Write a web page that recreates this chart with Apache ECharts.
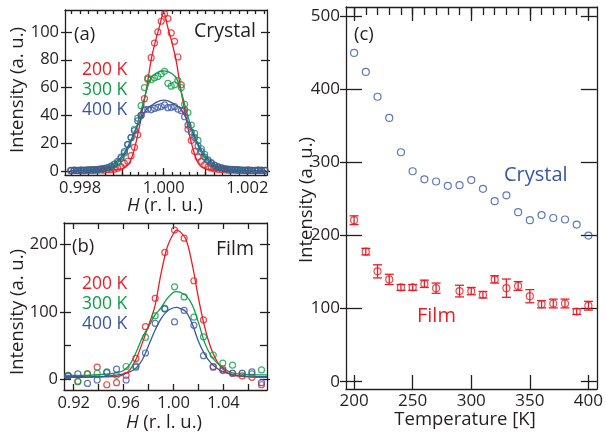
<!DOCTYPE html>
<html><head><meta charset="utf-8">
<script src="https://cdn.jsdelivr.net/npm/echarts@6/dist/echarts.min.js"></script>
<style>html,body{margin:0;padding:0;background:#fff}#c{width:606px;height:435px}</style>
</head><body><div id="c"></div>
<script>
// ---------- Panel (a): Crystal, H scans ----------
const aH = [0.99778,0.99786,0.99794,0.99802,0.99810,0.99818,0.99826,0.99834,0.99842,0.99850,0.99858,0.99866,0.99874,0.99882,0.99890,0.99898,0.99906,0.99914,0.99922,0.99930,0.99938,0.99946,0.99954,0.99962,0.99970,0.99978,0.99986,0.99994,1.00002,1.00010,1.00018,1.00026,1.00034,1.00042,1.00050,1.00058,1.00066,1.00074,1.00082,1.00090,1.00098,1.00106,1.00114,1.00122,1.00130,1.00138,1.00146,1.00154,1.00162,1.00170,1.00178,1.00186,1.00194,1.00202,1.00210,1.00218,1.00226,1.00234,1.00242];
const a200 = [0.2,0.4,0.3,0.5,0.2,0.4,0.6,0.3,0.5,0.7,0.6,0.9,1.0,1.3,2.0,3.0,5.5,7,11,17,26,40,52,66,81.5,92,100,107.7,113,109.6,99.3,93.3,82,62,44,30,22,14,10,7,4.5,3,2,1.5,1.2,1.0,0.8,0.6,0.5,0.7,0.4,0.5,0.3,0.6,0.4,0.3,0.5,0.4,0.3];
const a300 = [0.3,0.5,0.4,0.6,0.5,0.7,0.6,0.9,1.0,1.3,1.6,2.2,3.0,4.5,6,9,13,19,24,30,38,47,60,66.9,65.7,66.9,68,69.8,71.7,63,61,62,65,60,48,42,33,27,22,16,12,8,6,4,3,2.2,1.6,1.2,1.0,0.8,0.9,0.6,0.5,0.7,0.4,0.5,0.6,0.4,0.5];
const a400 = [0.5,0.6,0.4,0.7,0.6,0.8,0.9,1.0,1.2,1.5,1.9,2.5,3.5,5,7,10,14,19,24,29,36,40,44,44.4,44,45,45.8,46.3,47.5,45.5,45.8,46.3,44.4,43.4,39,33,28,24,18,14,10,7.5,5.5,4,3,2.2,1.7,1.3,1.1,0.9,0.8,0.7,0.6,0.6,0.5,0.5,0.6,0.5,0.5];
const aFitH = [0.99776,0.9981,0.9984,0.9986,0.9987,0.9988,0.9989,0.9990,0.9991,0.9992,0.9993,0.9994,0.9995,0.9996,0.9997,0.9998,0.9999,1.0000,1.0001,1.0002,1.0003,1.0004,1.0005,1.0006,1.0007,1.0008,1.0009,1.0010,1.0011,1.0012,1.0013,1.0014,1.0016,1.0019,1.0022,1.00245];
const aFit200 = [0.1,0.2,0.3,0.4,0.5,0.7,1.0,1.6,3,7,16,29,45,61,80,93,104,114,103,92,79,60,44,28,16,7,3,1.6,1.0,0.7,0.5,0.4,0.3,0.2,0.15,0.1];
const aFit300 = [0.25,0.4,0.8,1.5,2.2,3.5,6,9,13.5,19.5,27,37,48,59,67,70,71.5,72,71.5,70,67,59,48,37,27,19.5,13.5,9,6,3.5,2.2,1.5,0.8,0.4,0.25,0.2];
const aFit400 = [0.3,0.5,1.1,2.2,3.2,5,7.5,10.5,15,21,28,34,40,45,47,49,50.5,51,50.5,49,47,45,40,34,28,21,15,10.5,7.5,5,3.2,2.2,1.1,0.5,0.3,0.25];
const aXLabels = [0.998,1.000,1.002];
const aXMajor = [0.998,0.999,1.000,1.001,1.002];
const aXMinor = [0.9978,0.998,0.9982,0.9984,0.9986,0.9988,0.999,0.9992,0.9994,0.9996,0.9998,1,1.0002,1.0004,1.0006,1.0008,1.001,1.0012,1.0014,1.0016,1.0018,1.002,1.0022,1.0024];
const aYTicks = [0,20,40,60,80,100];

// ---------- Panel (b): Film, H scans ----------
const bH = [0.9155,0.9233,0.931,0.9388,0.9465,0.9543,0.962,0.9698,0.9775,0.9853,0.993,1.0008,1.0085,1.0163,1.024,1.0318,1.0395,1.0473,1.055,1.0628,1.0705];
const b200 = [5,-3,8,18,-8,-5,6,31,78,120,188,221,209,146,88,19,15,9,5,3,-8];
const b300 = [6,-3.5,8,9,11,6,19,20,62,94,104,137,122,92,63,36,24,21,9,8,14];
const b400 = [5,8,-6,-1,10,15,-1,18,39,83,105,85,102,80,35,18,13,9,9,11,-5];
const bFitH = [0.9122,0.93,0.945,0.955,0.96,0.965,0.97,0.975,0.98,0.985,0.99,0.995,1.0,1.0025,1.005,1.01,1.015,1.02,1.025,1.03,1.035,1.04,1.045,1.05,1.06,1.0749];
const bFit200 = [3,3,3.5,4.5,7,14,30,54,80,108,157,196,216,221,219,207,170,120,77,46,26,14,8,5,3.5,3];
const bFit300 = [6,6,7.5,10,13,22,40,62,78,95,106,120,129,130,129,124,110,84,54,35,24,16,11,8.5,7,6.5];
const bFit400 = [4,4,4.5,6.5,8,11,17,29,50,72,90,101,106,106.5,105,100,82,56,37,24,16,11,8,6,4.5,4];
const bXLabels = [0.92,0.96,1.00,1.04];
const bXTicks = [0.92,0.94,0.96,0.98,1.00,1.02,1.04,1.06];
const bYLabels = [0,100,200];
const bYTicks = [0,50,100,150,200];

// ---------- Panel (c): Intensity vs temperature ----------
const crystalT = [200,210,220,230,240,250,260,270,280,290,300,310,320,330,340,350,360,370,380,390,400];
const crystalI = [450,424,390,361,314,288,277,274,268,269,276,264,247,255,232,221,228,224,222,215,200];
const filmT = [200,210,220,230,240,250,260,270,290,300,310,320,330,340,350,360,370,380,390,400];
const filmI = [221,178,151,140,129,129,134,128,124,124,119,140,128,131,117,106,107,107,96,104];
const filmErr = [6,4.5,9,7,4,4,5,7,8,5,4.5,5,12.5,6,9,5,6,6,4,6];
const cXLabels = [200,250,300,350,400];
const cXMinor = [200,210,220,230,240,250,260,270,280,290,300,310,320,330,340,350,360,370,380,390,400];
const cYLabels = [0,100,200,300,400,500];

const RED = '#EC1C24', GREEN = '#0F9D48', BLUE = '#3A56A5', INK = '#231F20';
const F = '"Open Sans", "Noto Sans", sans-serif';

function ax(gridIndex, min, max, position, o) {
  return {
    type: 'value', gridIndex, min, max, position, scale: true,
    axisLine: { show: !!o.line, onZero: false, lineStyle: { color: INK, width: 1.3 } },
    axisTick: o.ticks ? { show: true, inside: !!o.inside, length: o.len, customValues: o.ticks, lineStyle: { color: INK, width: 1.3 } } : { show: false },
    axisLabel: o.labels ? { show: true, customValues: o.labels, formatter: o.fmt, color: INK, fontSize: o.fs || 16.5, fontFamily: F, margin: o.margin } : { show: false },
    splitLine: { show: false }
  };
}
const f3 = v => v.toFixed(3), f2 = v => v.toFixed(2), f0 = v => String(Math.round(v));

const xAxis = [
  // grid 0 (a)
  ax(0, 0.99764, 1.00247, 'bottom', { line: true, ticks: aXMinor, inside: true, len: 3, labels: aXLabels, fmt: f3, margin: 5 }),
  ax(0, 0.99764, 1.00247, 'bottom', { ticks: aXMajor, inside: true, len: 7 }),
  ax(0, 0.99764, 1.00247, 'top', { line: true, ticks: aXMinor, inside: true, len: 4 }),
  // grid 1 (b)
  ax(1, 0.9122, 1.0749, 'bottom', { line: true, ticks: bXTicks, inside: true, len: 6, labels: bXLabels, fmt: f2, margin: 5 }),
  ax(1, 0.9122, 1.0749, 'top', { line: true, ticks: bXTicks, inside: true, len: 6 }),
  // grid 2 (c)
  ax(2, 193.1, 407.2, 'bottom', { line: true, ticks: cXLabels, inside: true, len: 14, labels: cXLabels, fmt: f0, margin: 4, fs: 17 }),
  ax(2, 193.1, 407.2, 'top', { line: true, ticks: cXMinor, inside: true, len: 8 }),
  ax(2, 193.1, 407.2, 'top', { ticks: cXLabels, inside: true, len: 14 })
];
const yAxis = [
  // grid 0
  ax(0, -2.9, 115.8, 'left', { line: true, ticks: aYTicks, inside: false, len: 4, labels: aYTicks, fmt: f0, margin: 6 }),
  ax(0, -2.9, 115.8, 'left', { ticks: aYTicks, inside: true, len: 7 }),
  ax(0, -2.9, 115.8, 'right', { line: true, ticks: aYTicks, inside: true, len: 6 }),
  ax(0, -2.9, 115.8, 'right', { ticks: aYTicks, inside: false, len: 3 }),
  // grid 1
  ax(1, -15.8, 231.5, 'left', { line: true, ticks: bYLabels, inside: false, len: 4, labels: bYLabels, fmt: f0, margin: 6 }),
  ax(1, -15.8, 231.5, 'left', { ticks: bYTicks, inside: true, len: 7 }),
  ax(1, -15.8, 231.5, 'right', { line: true, ticks: bYTicks, inside: true, len: 7 }),
  ax(1, -15.8, 231.5, 'right', { ticks: bYLabels, inside: false, len: 3 }),
  // grid 2
  ax(2, -10, 512.8, 'left', { line: true, ticks: cYLabels, inside: false, len: 6, labels: cYLabels, fmt: f0, margin: 6, fs: 17 }),
  ax(2, -10, 512.8, 'left', { ticks: cYLabels, inside: true, len: 16 }),
  ax(2, -10, 512.8, 'right', { line: true, ticks: cYLabels, inside: true, len: 16 })
];

const zip = (xs, ys) => xs.map((x, i) => [x, ys[i]]);
function fit(xi, yi, xs, ys, color) {
  return { type: 'line', xAxisIndex: xi, yAxisIndex: yi, data: zip(xs, ys), showSymbol: false, smooth: 0.35,
    lineStyle: { color, width: 1.3 }, itemStyle: { color }, silent: true, z: 2 };
}
function pts(xi, yi, xs, ys, color, size) {
  return { type: 'scatter', xAxisIndex: xi, yAxisIndex: yi, data: zip(xs, ys), symbol: 'circle', symbolSize: size,
    itemStyle: { color: 'rgba(0,0,0,0)', borderColor: color, borderWidth: 1.2 }, silent: true, z: 3 };
}

const series = [
  fit(0, 0, aFitH, aFit200, RED), fit(0, 0, aFitH, aFit300, GREEN), fit(0, 0, aFitH, aFit400, BLUE),
  pts(0, 0, aH, a200, RED, 6), pts(0, 0, aH, a300, GREEN, 6), pts(0, 0, aH, a400, BLUE, 6),
  fit(3, 4, bFitH, bFit200, RED), fit(3, 4, bFitH, bFit300, GREEN), fit(3, 4, bFitH, bFit400, BLUE),
  pts(3, 4, bH, b200, RED, 6), pts(3, 4, bH, b300, GREEN, 6), pts(3, 4, bH, b400, BLUE, 6),
  pts(5, 8, crystalT, crystalI, BLUE, 7),
  {
    type: 'custom', xAxisIndex: 5, yAxisIndex: 8, silent: true, z: 3,
    data: filmT.map((t, i) => [t, filmI[i], filmErr[i]]),
    encode: { x: 0, y: 1 },
    renderItem: function (params, api) {
      const x = api.value(0), y = api.value(1), e = api.value(2);
      const t = api.coord([x, y + e]), b = api.coord([x, y - e]);
      const hw = 4.5, st = { stroke: RED, lineWidth: 1.3 };
      return { type: 'group', children: [
        { type: 'line', shape: { x1: t[0], y1: t[1], x2: b[0], y2: b[1] }, style: st },
        { type: 'line', shape: { x1: t[0] - hw, y1: t[1], x2: t[0] + hw, y2: t[1] }, style: st },
        { type: 'line', shape: { x1: b[0] - hw, y1: b[1], x2: b[0] + hw, y2: b[1] }, style: st }
      ] };
    }
  },
  pts(5, 8, filmT, filmI, RED, 7)
];

function txt(s, x, y, color, size, align, rot) {
  const el = { type: 'text', x, y, silent: true, z: 10,
    style: { text: s, fill: color || INK, fontSize: size, fontFamily: F, textAlign: align || 'left', textVerticalAlign: 'middle',
      rich: { i: { fontStyle: 'italic', fontSize: size, fontFamily: F, fill: color || INK } } } };
  if (rot) el.rotation = rot;
  return el;
}
const UP = Math.PI / 2;
const graphic = [
  // panel annotations
  txt('(a)', 74, 35, INK, 18.5), txt('Crystal', 256, 31, INK, 19.5, 'right'),
  txt('200 K', 82, 70, RED, 17.5), txt('300 K', 82, 90, GREEN, 17.5), txt('400 K', 82, 110, BLUE, 17.5),
  txt('(b)', 72, 247, INK, 18.5), txt('Film', 254, 249, INK, 19.5, 'right'),
  txt('200 K', 82, 284, RED, 17.5), txt('300 K', 82, 304, GREEN, 17.5), txt('400 K', 82, 324, BLUE, 17.5),
  txt('(c)', 354, 35, INK, 18.5), txt('Crystal', 504, 175, BLUE, 20), txt('Film', 417, 316, RED, 20),
  // axis titles
  txt('{i|H} (r. l. u.)', 165, 206, INK, 18.5, 'center'),
  txt('{i|H} (r. l. u.)', 164, 423, INK, 18.5, 'center'),
  txt('Temperature [K]', 465, 420, INK, 18.5, 'center'),
  txt('Intensity (a. u.)', 18, 90, INK, 18.5, 'center', UP),
  txt('Intensity (a. u.)', 18, 312, INK, 18.5, 'center', UP),
  txt('Intensity (a. u.)', 307, 200, INK, 18.5, 'center', UP)
];

const chart = echarts.init(document.getElementById('c'), null, { renderer: 'canvas' });
chart.setOption({
  animation: false,
  backgroundColor: '#fff',
  grid: [
    { left: 65, top: 10, width: 202, height: 165 },
    { left: 64, top: 223, width: 203, height: 167 },
    { left: 346, top: 7, width: 257, height: 382 }
  ],
  xAxis, yAxis, series, graphic
});
</script></body></html>
